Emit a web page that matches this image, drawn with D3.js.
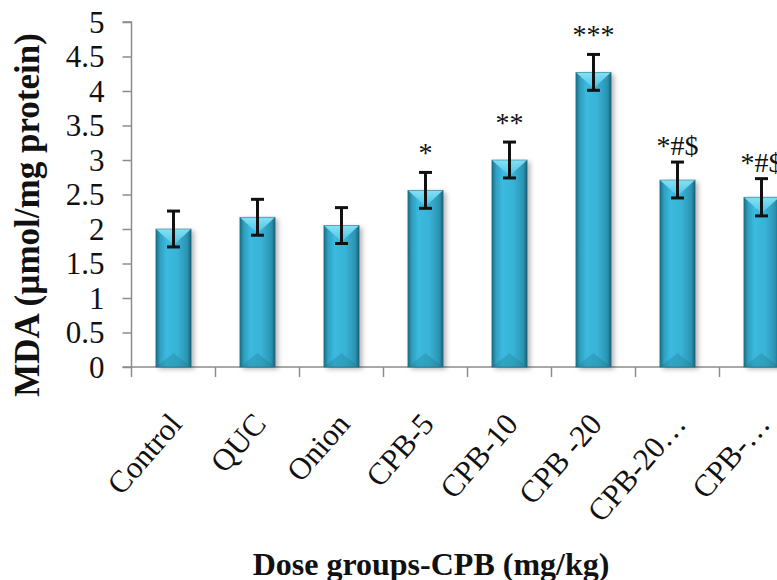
<!DOCTYPE html>
<html>
<head>
<meta charset="utf-8">
<script src="https://cdn.jsdelivr.net/npm/d3@7"></script>
<style>
  html, body { margin: 0; padding: 0; background: #fff; overflow: hidden; }
  svg { display: block; }
</style>
</head>
<body>
<svg id="chart" width="777" height="580"></svg>
<script>
const categories = ["Control", "QUC", "Onion", "CPB-5", "CPB-10", "CPB -20", "CPB-20\u2026", "CPB-\u2026"];
const mdaValues = [2.0, 2.17, 2.05, 2.56, 3.0, 4.27, 2.71, 2.46];
const mdaErrors = [0.26, 0.26, 0.26, 0.26, 0.26, 0.26, 0.26, 0.27];
const significance = ["", "", "", "*", "**", "***", "*#$", "*#$"];
const yTicks = [0, 0.5, 1, 1.5, 2, 2.5, 3, 3.5, 4, 4.5, 5];
const yTitle = "MDA (\u00b5mol/mg protein)";
const xTitle = "Dose groups-CPB (mg/kg)";

const svg = d3.select("#chart");
const serif = "'Liberation Serif', 'Times New Roman', serif";

const x0 = 131.5, y0 = 367, yTop = 22;
const step = 84;
const x = d3.scaleBand().domain(categories)
  .range([x0, x0 + step * categories.length])
  .paddingInner(0.58).paddingOuter(0.29);
const y = d3.scaleLinear().domain([0, 5]).range([y0, yTop]);

const defs = svg.append("defs");
const g1 = defs.append("linearGradient").attr("id", "barGrad").attr("x1", 0).attr("x2", 1).attr("y1", 0).attr("y2", 0);
[[0, "#1c6f87"], [0.12, "#2f9fc0"], [0.3, "#3bbadf"], [0.6, "#38b3d7"], [0.88, "#2c95b4"], [1, "#1a6378"]]
  .forEach(([o, c]) => g1.append("stop").attr("offset", o).attr("stop-color", c));
const g2 = defs.append("linearGradient").attr("id", "topGrad").attr("x1", 0).attr("x2", 0).attr("y1", 0).attr("y2", 1);
[[0, "#8ee6f8"], [1, "#4cc6e6"]].forEach(([o, c]) => g2.append("stop").attr("offset", o).attr("stop-color", c));
const f = defs.append("filter").attr("id", "shadow").attr("x", "-20%").attr("y", "-10%").attr("width", "150%").attr("height", "130%");
f.append("feDropShadow").attr("dx", 3).attr("dy", 2).attr("stdDeviation", 2.5).attr("flood-color", "#000").attr("flood-opacity", 0.3);

// Y axis
const yAxis = d3.axisLeft(y).tickValues(yTicks).tickSize(9).tickPadding(18)
  .tickFormat(d => String(d));
const ya = svg.append("g").attr("transform", `translate(${x0},0)`).call(yAxis);
ya.select(".domain").attr("stroke", "#8c8c8c").attr("stroke-width", 1.5).attr("d", `M-9,${yTop}H0V${y0}`);
ya.selectAll(".tick line").attr("stroke", "#8c8c8c").attr("stroke-width", 1.5);
ya.selectAll(".tick text").attr("font-family", serif).attr("font-size", 31).attr("fill", "#111").attr("dy", "0.33em");

// X axis baseline and boundary ticks
const xa = svg.append("g");
xa.append("line").attr("x1", x0 - 9).attr("x2", x0 + step * categories.length).attr("y1", y0).attr("y2", y0)
  .attr("stroke", "#8c8c8c").attr("stroke-width", 1.5);
xa.selectAll("line.b").data(d3.range(categories.length + 1)).join("line").attr("class", "b")
  .attr("x1", i => x0 + i * x.step()).attr("x2", i => x0 + i * x.step())
  .attr("y1", y0).attr("y2", y0 + 10).attr("stroke", "#8c8c8c").attr("stroke-width", 1.5);

// Bars
const bars = svg.append("g").selectAll("g").data(categories).join("g");
bars.append("rect")
  .attr("x", d => x(d)).attr("width", x.bandwidth())
  .attr("y", (d, i) => y(mdaValues[i])).attr("height", (d, i) => y0 - y(mdaValues[i]))
  .attr("fill", "url(#barGrad)").attr("filter", "url(#shadow)");
bars.append("path")
  .attr("d", (d, i) => {
    const l = x(d), w = x.bandwidth(), t = y(mdaValues[i]), b = 16;
    return `M${l},${t}H${l + w}L${l + w / 2},${t + b}Z`;
  })
  .attr("fill", "url(#topGrad)").attr("opacity", 0.9);
bars.append("path")
  .attr("d", (d, i) => {
    const l = x(d), w = x.bandwidth(), b = 14;
    return `M${l},${y0}H${l + w}L${l + w / 2},${y0 - b}Z`;
  })
  .attr("fill", "#1f7c96").attr("opacity", 0.35);
bars.append("rect")
  .attr("x", d => x(d)).attr("width", x.bandwidth())
  .attr("y", (d, i) => y(mdaValues[i])).attr("height", (d, i) => y0 - y(mdaValues[i]))
  .attr("fill", "none").attr("stroke", "#1b6479").attr("stroke-width", 0.8).attr("stroke-opacity", 0.6);

// Error bars
const eb = svg.append("g").attr("stroke", "#111").attr("stroke-width", 3);
categories.forEach((c, i) => {
  const cx = x(c) + x.bandwidth() / 2;
  const hi = y(mdaValues[i] + mdaErrors[i]), lo = y(mdaValues[i] - mdaErrors[i]);
  eb.append("line").attr("x1", cx).attr("x2", cx).attr("y1", hi).attr("y2", lo);
  eb.append("line").attr("x1", cx - 6.5).attr("x2", cx + 6.5).attr("y1", hi).attr("y2", hi);
  eb.append("line").attr("x1", cx - 6.5).attr("x2", cx + 6.5).attr("y1", lo).attr("y2", lo);
});

// Significance labels
svg.append("g").selectAll("text").data(categories).join("text")
  .attr("x", d => x(d) + x.bandwidth() / 2)
  .attr("y", (d, i) => y(mdaValues[i] + mdaErrors[i]) - (significance[i].includes("#") ? 7 : 10))
  .attr("text-anchor", "middle")
  .attr("font-family", serif).attr("font-size", 28).attr("fill", "#111")
  .text((d, i) => significance[i]);

// Category labels
svg.append("g").selectAll("text").data(categories).join("text")
  .attr("transform", d => `translate(${x(d) + x.bandwidth() / 2 + 10},${y0 + 58}) rotate(-49)`)
  .attr("text-anchor", "end")
  .attr("font-family", serif).attr("font-size", 31).attr("fill", "#111")
  .text(d => d);

// Axis titles
svg.append("text")
  .attr("transform", `translate(39,215) rotate(-90)`)
  .attr("text-anchor", "middle")
  .attr("font-family", serif).attr("font-weight", "bold").attr("font-size", 35).attr("fill", "#111")
  .text(yTitle);
svg.append("text")
  .attr("x", 431).attr("y", 575)
  .attr("text-anchor", "middle")
  .attr("font-family", serif).attr("font-weight", "bold").attr("font-size", 32).attr("fill", "#111")
  .text(xTitle);
</script>
</body>
</html>
